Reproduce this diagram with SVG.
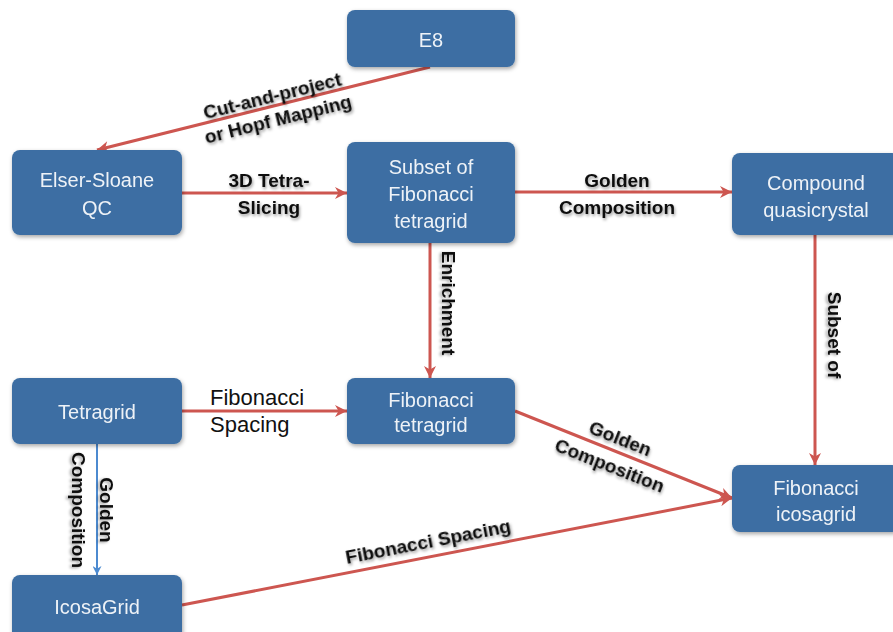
<svg xmlns="http://www.w3.org/2000/svg" width="893" height="632" viewBox="0 0 893 632">
<defs>
<style>
.box{fill:#3c6ea3;}
.nt{font-family:"Liberation Sans",Arial,sans-serif;font-size:20px;fill:#eef2f7;text-anchor:middle;dominant-baseline:central;}
.lb{font-family:"Liberation Sans",Arial,sans-serif;font-size:19px;font-weight:bold;fill:#111;text-anchor:middle;dominant-baseline:central;}
.ln{font-family:"Liberation Sans",Arial,sans-serif;font-size:22px;fill:#111;}
.red{stroke:#cd5650;stroke-width:3;fill:none;marker-end:url(#ar);}
.blue{stroke:#4c8ad0;stroke-width:2;fill:none;marker-end:url(#ab);}
</style>
<filter id="sh" x="-10%" y="-10%" width="125%" height="130%">
<feDropShadow dx="1" dy="2" stdDeviation="2" flood-color="#000" flood-opacity="0.35"/>
</filter>
<filter id="ts" x="-10%" y="-30%" width="120%" height="160%">
<feDropShadow dx="1" dy="2" stdDeviation="1.8" flood-color="#000" flood-opacity="0.4"/>
</filter>
<marker id="ar" viewBox="0 0 10 10" refX="10" refY="5" markerUnits="userSpaceOnUse" markerWidth="13" markerHeight="12" orient="auto">
<path d="M0,0 L10,5 L0,10 L3,5 Z" fill="#cd5650"/>
</marker>
<marker id="ab" viewBox="0 0 10 10" refX="10" refY="5" markerUnits="userSpaceOnUse" markerWidth="10" markerHeight="9" orient="auto">
<path d="M0,0 L10,5 L0,10 L3,5 Z" fill="#4c8ad0"/>
</marker>
</defs>
<rect width="893" height="632" fill="#ffffff"/>

<g id="connectors">
<path class="red" d="M430,67 L97,150"/>
<path class="red" d="M182,193 L347,193"/>
<path class="red" d="M515,192 L732,192"/>
<path class="red" d="M430,243 L430,378"/>
<path class="red" d="M815,235 L815,465"/>
<path class="red" d="M182,411 L347,411"/>
<path class="blue" d="M97,444 L97,575"/>
<path class="red" d="M515,411 L732,498"/>
<path class="red" d="M182,605 L732,498"/>
</g>

<g id="labels">
<g transform="translate(275,107) rotate(-14)" filter="url(#ts)">
<text class="lb" x="0" y="-12">Cut-and-project</text>
<text class="lb" x="0" y="12">or Hopf Mapping</text>
</g>
<g filter="url(#ts)">
<text class="lb" x="269" y="180">3D Tetra-</text>
<text class="lb" x="269" y="207">Slicing</text>
</g>
<g filter="url(#ts)">
<text class="lb" x="617" y="180">Golden</text>
<text class="lb" x="617" y="207">Composition</text>
</g>
<g transform="translate(449,303) rotate(90)" filter="url(#ts)">
<text class="lb" x="0" y="0">Enrichment</text>
</g>
<g transform="translate(835,335) rotate(90)" filter="url(#ts)">
<text class="lb" x="0" y="0">Subset of</text>
</g>
<g transform="translate(93,510) rotate(90)" filter="url(#ts)">
<text class="lb" x="0" y="-14">Golden</text>
<text class="lb" x="0" y="14">Composition</text>
</g>
<g transform="translate(615,452) rotate(21.6)" filter="url(#ts)">
<text class="lb" x="0" y="-14.5">Golden</text>
<text class="lb" x="0" y="14.5">Composition</text>
</g>
<g transform="translate(428,541) rotate(-11)" filter="url(#ts)">
<text class="lb" x="0" y="0">Fibonacci Spacing</text>
</g>
<text class="ln" x="210" y="405">Fibonacci</text>
<text class="ln" x="210" y="432">Spacing</text>
</g>

<g id="node-e8" filter="url(#sh)">
<rect class="box" x="347" y="10" width="168" height="57" rx="8"/>
<text class="nt" x="431" y="40">E8</text>
</g>
<g id="node-elser" filter="url(#sh)">
<rect class="box" x="12" y="150" width="170" height="85" rx="8"/>
<text class="nt" x="97" y="180">Elser-Sloane</text>
<text class="nt" x="97" y="208">QC</text>
</g>
<g id="node-subset" filter="url(#sh)">
<rect class="box" x="347" y="142" width="168" height="101" rx="8"/>
<text class="nt" x="431" y="167">Subset of</text>
<text class="nt" x="431" y="194">Fibonacci</text>
<text class="nt" x="431" y="221">tetragrid</text>
</g>
<g id="node-compound" filter="url(#sh)">
<rect class="box" x="732" y="153" width="168" height="82" rx="8"/>
<text class="nt" x="816" y="183">Compound</text>
<text class="nt" x="816" y="210">quasicrystal</text>
</g>
<g id="node-tetragrid" filter="url(#sh)">
<rect class="box" x="12" y="378" width="170" height="66" rx="8"/>
<text class="nt" x="97" y="412">Tetragrid</text>
</g>
<g id="node-fibtetra" filter="url(#sh)">
<rect class="box" x="347" y="378" width="168" height="66" rx="8"/>
<text class="nt" x="431" y="400">Fibonacci</text>
<text class="nt" x="431" y="425">tetragrid</text>
</g>
<g id="node-fibicosa" filter="url(#sh)">
<rect class="box" x="732" y="465" width="168" height="67" rx="8"/>
<text class="nt" x="816" y="488">Fibonacci</text>
<text class="nt" x="816" y="514">icosagrid</text>
</g>
<g id="node-icosagrid" filter="url(#sh)">
<rect class="box" x="12" y="575" width="170" height="70" rx="8"/>
<text class="nt" x="97" y="607">IcosaGrid</text>
</g>
</svg>
